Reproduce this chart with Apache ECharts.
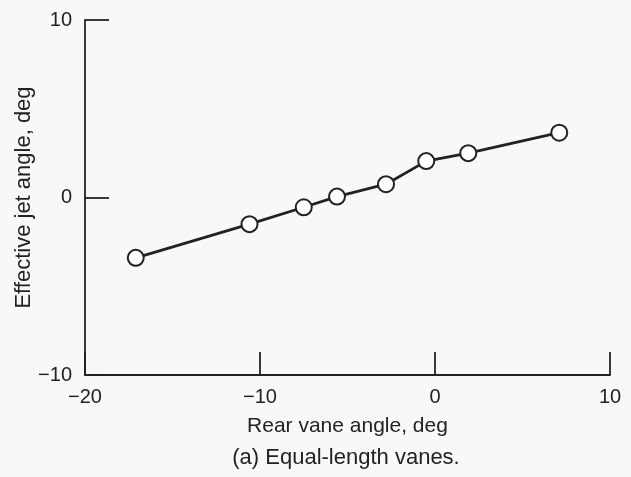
<!DOCTYPE html>
<html>
<head>
<meta charset="utf-8">
<script src="https://cdn.jsdelivr.net/npm/echarts@6/dist/echarts.min.js"></script>
<style>html,body{margin:0;padding:0;background:#f8f8f8;}#c{width:631px;height:477px;}</style>
</head>
<body>
<div id="c"></div>
<script>
const rearVaneAngle = [-17.1, -10.6, -7.5, -5.6, -2.8, -0.5, 1.9, 7.1];
const effectiveJetAngle = [-3.4, -1.5, -0.55, 0.05, 0.75, 2.05, 2.5, 3.65];
const xTicks = [-20, -10, 0, 10];
const yTicks = [-10, 0, 10];
const xName = 'Rear vane angle, deg';
const yName = 'Effective jet angle, deg';
const caption = '(a) Equal-length vanes.';

const font = '"Liberation Sans", Arial, Helvetica, sans-serif';
const ink = '#222222';
const fs = 20;
const chart = echarts.init(document.getElementById('c'));
chart.setOption({
  backgroundColor: '#f8f8f8',
  animation: false,
  grid: { left: 85, right: 21, top: 20, bottom: 102, containLabel: false, outerBoundsMode: 'none' },
  xAxis: {
    type: 'value', min: xTicks[0], max: xTicks[xTicks.length - 1], interval: 10,
    name: xName, nameLocation: 'middle', nameGap: 41,
    nameTextStyle: { color: ink, fontSize: 21, fontFamily: font },
    axisLine: { show: true, onZero: false, lineStyle: { color: ink, width: 1.8 } },
    axisTick: { show: true, inside: true, length: 23, lineStyle: { color: ink, width: 1.8 } },
    axisLabel: { color: ink, fontSize: fs, fontFamily: font, margin: 12,
      formatter: v => (v < 0 ? '\u2212' + Math.abs(v) : String(v)) },
    splitLine: { show: false }
  },
  yAxis: {
    type: 'value', min: yTicks[0], max: yTicks[yTicks.length - 1], interval: 10,
    name: yName, nameLocation: 'middle', nameGap: 50, nameMoveOverlap: false,
    nameTextStyle: { color: ink, fontSize: 22, fontFamily: font },
    axisLine: { show: true, onZero: false, lineStyle: { color: ink, width: 1.8 } },
    axisTick: { show: true, inside: true, length: 24, lineStyle: { color: ink, width: 1.8 } },
    axisLabel: { color: ink, fontSize: fs, fontFamily: font, margin: 13,
      formatter: v => (v < 0 ? '\u2212' + Math.abs(v) : String(v)) },
    splitLine: { show: false }
  },
  graphic: [{
    type: 'text', x: 346, y: 458,
    style: { text: caption, fill: ink, font: '22px ' + font, align: 'center', verticalAlign: 'middle' }
  }],
  series: [{
    type: 'line',
    data: rearVaneAngle.map((x, i) => [x, effectiveJetAngle[i]]),
    symbol: 'circle', symbolSize: 16,
    lineStyle: { color: ink, width: 2.8 },
    itemStyle: { color: '#ffffff', borderColor: ink, borderWidth: 2 },
    z: 3
  }]
});
</script>
</body>
</html>
